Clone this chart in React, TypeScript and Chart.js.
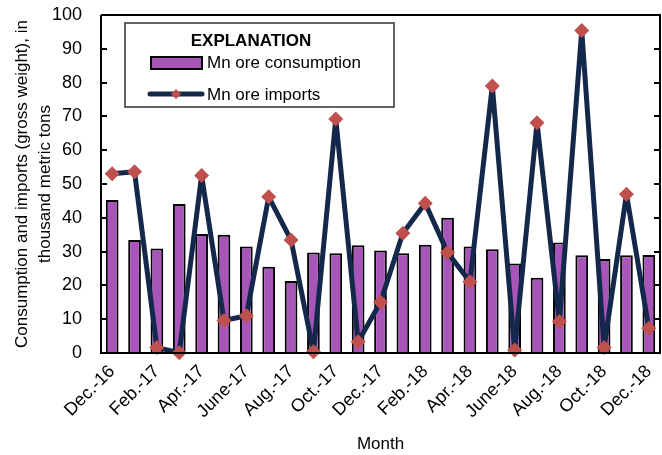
import React, { useEffect, useRef } from "react";
import Chart from "chart.js/auto";

const months = [
  "Dec.-16", "Jan.-17", "Feb.-17", "Mar.-17", "Apr.-17", "May-17", "June-17", "July-17", "Aug.-17",
  "Sept.-17", "Oct.-17", "Nov.-17", "Dec.-17", "Jan.-18", "Feb.-18", "Mar.-18", "Apr.-18", "May-18",
  "June-18", "July-18", "Aug.-18", "Sept.-18", "Oct.-18", "Nov.-18", "Dec.-18",
];
const consumption = [
  45.3, 33.4, 30.9, 44.1, 35.2, 35.0, 31.5, 25.5, 21.3, 29.7, 29.5, 31.9, 30.3,
  29.5, 32.0, 40.0, 31.5, 30.7, 26.5, 22.3, 32.7, 28.9, 27.8, 28.9, 29.0,
];
const imports = [
  53.0, 53.6, 1.6, 0.1, 52.5, 9.6, 11.0, 46.2, 33.4, 0.4, 69.2, 3.3, 15.0,
  35.4, 44.3, 29.7, 21.1, 79.0, 0.9, 68.1, 9.3, 95.4, 1.6, 47.0, 7.3,
];
const yTicks = [0, 10, 20, 30, 40, 50, 60, 70, 80, 90, 100];
const seriesNames = ["Mn ore consumption", "Mn ore imports"];
const legendTitle = "EXPLANATION";
const yTitle = ["Consumption and imports (gross weight), in", "thousand metric tons"];
const xTitle = "Month";

const FONT = "'Liberation Sans Narrow', 'Liberation Sans', Arial, sans-serif";
const BAR_COLOR = "#A855BA";
const LINE_COLOR = "#14284B";
const MARK_COLOR = "#C0504D";

const framePlugin = {
  id: "frame",
  afterDatasetsDraw(chart: any) {
    const { ctx, chartArea } = chart;
    const y = chart.scales.y;
    ctx.save();
    ctx.strokeStyle = "#000";
    ctx.lineWidth = 2;
    ctx.beginPath();
    ctx.moveTo(chartArea.left, chartArea.top);
    ctx.lineTo(chartArea.right, chartArea.top);
    ctx.lineTo(chartArea.right, chartArea.bottom);
    ctx.lineTo(chartArea.left, chartArea.bottom);
    ctx.lineTo(chartArea.left, chartArea.top);
    ctx.stroke();
    yTicks.forEach((v) => {
      const py = Math.round(y.getPixelForValue(v));
      ctx.beginPath();
      ctx.moveTo(chartArea.left, py);
      ctx.lineTo(chartArea.left + 6, py);
      ctx.moveTo(chartArea.right, py);
      ctx.lineTo(chartArea.right - 6, py);
      ctx.stroke();
    });
    // legend box
    const bx = 125, by = 23, bw = 269, bh = 84;
    ctx.fillStyle = "#fff";
    ctx.fillRect(bx, by, bw, bh);
    ctx.strokeStyle = "#333";
    ctx.lineWidth = 1.5;
    ctx.strokeRect(bx, by, bw, bh);
    ctx.fillStyle = "#000";
    ctx.font = `bold 17px ${FONT}`;
    ctx.textAlign = "center";
    ctx.textBaseline = "middle";
    ctx.fillText(legendTitle, 251, 41);
    ctx.font = `17px ${FONT}`;
    ctx.textAlign = "left";
    ctx.fillStyle = BAR_COLOR;
    ctx.fillRect(151, 57, 51, 12);
    ctx.strokeStyle = "#000";
    ctx.lineWidth = 2;
    ctx.strokeRect(151, 57, 51, 12);
    ctx.fillStyle = "#000";
    ctx.fillText(seriesNames[0], 207, 63);
    ctx.strokeStyle = LINE_COLOR;
    ctx.lineWidth = 5;
    ctx.lineCap = "round";
    ctx.beginPath();
    ctx.moveTo(150, 94);
    ctx.lineTo(202, 94);
    ctx.stroke();
    ctx.fillStyle = MARK_COLOR;
    ctx.beginPath();
    ctx.moveTo(176, 89);
    ctx.lineTo(181, 94);
    ctx.lineTo(176, 99);
    ctx.lineTo(171, 94);
    ctx.closePath();
    ctx.fill();
    ctx.fillStyle = "#000";
    ctx.fillText(seriesNames[1], 207, 95);
    ctx.restore();
  },
};

export default function App() {
  const ref = useRef<HTMLCanvasElement>(null);
  useEffect(() => {
    if (!ref.current) return;
    const chart = new Chart(ref.current, {
      type: "bar",
      data: {
        labels: months,
        datasets: [
          {
            type: "line",
            label: seriesNames[1],
            data: imports,
            borderColor: LINE_COLOR,
            borderWidth: 5,
            borderJoinStyle: "round",
            backgroundColor: MARK_COLOR,
            pointStyle: "rectRot",
            pointRadius: 7.5,
            pointBorderWidth: 0,
            pointBackgroundColor: MARK_COLOR,
            pointBorderColor: MARK_COLOR,
            tension: 0,
            clip: false,
            order: 0,
          } as any,
          {
            type: "bar",
            label: seriesNames[0],
            data: consumption,
            backgroundColor: BAR_COLOR,
            borderColor: "#000",
            borderWidth: 2,
            barPercentage: 0.71,
            categoryPercentage: 0.8,
            order: 1,
          },
        ],
      },
      options: {
        responsive: false,
        animation: false,
        layout: { autoPadding: false, padding: { top: 15, right: 2, left: 10, bottom: 0 } },
        plugins: { legend: { display: false }, tooltip: { enabled: false } },
        scales: {
          x: {
            offset: true,
            grid: { display: false, drawTicks: false },
            border: { display: false },
            ticks: {
              autoSkip: false,
              maxRotation: 45,
              minRotation: 45,
              padding: 8,
              color: "#000",
              font: { family: FONT, size: 18 },
              callback: (_v: any, i: number) => (i % 2 === 0 ? months[i] : ""),
            },
            title: {
              display: true,
              text: xTitle,
              color: "#000",
              font: { family: FONT, size: 17 },
              padding: { top: 0, bottom: 0 },
            },
            afterFit: (s: any) => {
              s.height = 102;
              s.paddingLeft = 0;
              s.paddingRight = 0;
            },
          },
          y: {
            min: 0,
            max: 100,
            grid: { display: false, drawTicks: false },
            border: { display: false },
            afterBuildTicks: (s: any) => {
              s.ticks = yTicks.map((v) => ({ value: v }));
            },
            ticks: {
              padding: 19,
              color: "#000",
              font: { family: FONT, size: 18 },
            },
            title: {
              display: true,
              text: yTitle,
              color: "#000",
              font: { family: FONT, size: 17, lineHeight: 1.4 },
              padding: { top: 0, bottom: 0 },
            },
            afterFit: (s: any) => {
              s.width = 91;
              s.paddingTop = 0;
              s.paddingBottom = 0;
            },
          },
        },
      },
      plugins: [framePlugin],
    });
    return () => chart.destroy();
  }, []);
  return (
    <div style={{ position: "absolute", left: 0, top: 0, width: 662, height: 455 }}>
      <canvas ref={ref} width={662} height={455} />
    </div>
  );
}
